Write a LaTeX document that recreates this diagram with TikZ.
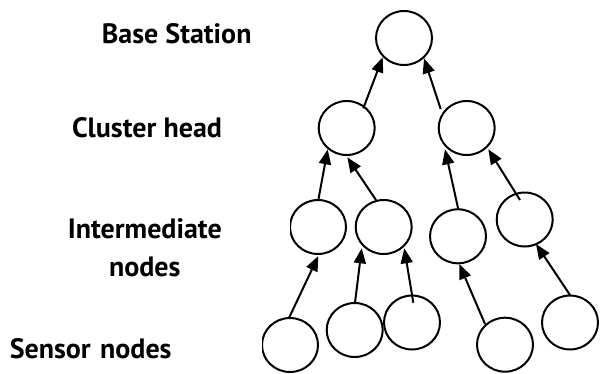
\documentclass[tikz,border=0pt]{standalone}
\usepackage{fontspec}
\setmainfont{PT Sans}
\usetikzlibrary{arrows.meta,shapes.geometric,calc}
\begin{document}
\begin{tikzpicture}[x=1pt,y=-1pt,
  sensor/.style={ellipse,draw,line width=2pt,minimum width=56pt,minimum height=54pt,inner sep=0pt},
  link/.style={line width=2pt,-{Triangle[length=15pt,width=12pt]}},
  tier/.style={font=\fontsize{28}{38}\selectfont\bfseries,inner sep=0pt}]
\useasboundingbox (0,0) rectangle (600,373);

% network nodes, top to bottom
\node[sensor] (bs)  at (404,38) {};
\node[sensor] (chl) at (346.7,128) {};
\node[sensor] (chr) at (466.7,128) {};
\node[sensor] (i1)  at (318,227) {};
\node[sensor] (i2)  at (383.7,227) {};
\node[sensor] (i3)  at (458,236.3) {};
\node[sensor] (i4)  at (524.7,219.5) {};
\node[sensor] (s1)  at (290,345) {};
\node[sensor] (s2)  at (354.7,330) {};
\node[sensor] (s3)  at (412,322.5) {};
\node[sensor] (s4)  at (505,344.7) {};
\node[sensor] (s5)  at (570,322.5) {};

% data flow towards the base station
\draw[link] ($(chl)+(16.6,-19.7)$) -- ($(bs)+(-21.3,19.3)$);
\draw[link] ($(chr)+(-26,-19)$) -- ($(bs)+(20,20.3)$);
\draw[link] ($(i1)+(0.3,-27)$) -- ($(chl)+(-19,21.3)$);
\draw[link] ($(i2)+(-7.7,-27)$) -- ($(chl)+(0.6,29.3)$);
\draw[link] ($(i3)+(0.3,-27)$) -- ($(chr)+(-21.7,21.3)$);
\draw[link] ($(i4)+(-4.7,-19.5)$) -- ($(chr)+(21.6,21.3)$);
\draw[link] ($(s1)+(-0.7,-27.7)$) -- ($(i1)+(0.3,29)$);
\draw[link] ($(s2)+(0.3,-27.3)$) -- ($(i2)+(-22,21.3)$);
\draw[link] ($(s3)+(1.3,-19.8)$) -- ($(i2)+(20.6,21.3)$);
\draw[link] ($(s4)+(-20,-20.7)$) -- ($(i3)+(1.3,27.7)$);
\draw[link] ($(s5)+(0,-27.5)$) -- ($(i4)+(11.3,24.5)$);

% tier labels
\node[tier] (lbs) at (176.7,34) {Base Station};
\node[tier] (lch) at (147,128) {Cluster head};
\node[tier,fill=white,align=center,text width=290pt,minimum height=30pt,anchor=east] (lin) at (290,248)
  {Intermediate\\nodes};
\node[tier,fill=white,align=left,text width=252pt,minimum height=24pt,anchor=east] (lsn) at (262,349)
  {Sensor nodes};
\end{tikzpicture}
\end{document}
